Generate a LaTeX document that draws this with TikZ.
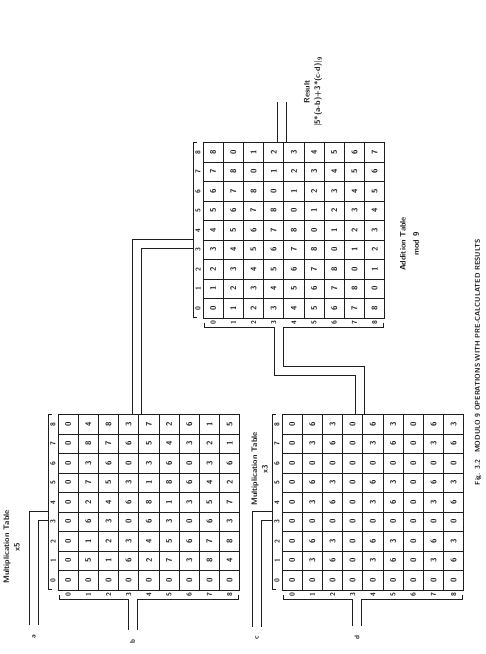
\documentclass[tikz,border=0pt]{standalone}
\usepackage{tikz}
\usetikzlibrary{positioning,calc}
\definecolor{cInk}{HTML}{1E1E1E}
\tikzset{
  cell/.style={draw=cInk, line width=0.7pt, minimum width=19.5pt, minimum height=20.2pt,
               inner sep=0pt, outer sep=0pt, font=\sffamily\bfseries\footnotesize, text=cInk},
  hdr/.style={inner sep=0pt, font=\sffamily\bfseries\scriptsize, text=cInk},
  brk/.style={draw=cInk, line width=0.7pt},
  core/.style={draw=white, line width=9pt},
  wire/.style={draw=cInk, line width=0.8pt},
  ttl/.style={font=\sffamily\bfseries\footnotesize, text=cInk, inner sep=1pt},
  lbl/.style={font=\sffamily\bfseries\scriptsize, text=cInk, inner sep=1pt},
}
\begin{document}
\begin{tikzpicture}[x=1pt, y=1pt, rotate=90, transform shape]
  \useasboundingbox (0,0) rectangle (654,-486);

  % tables: entry = (k*row*col + s*(row+col)) mod 9
  \foreach \tn/\ox/\oy/\k/\s in {m5/64/58/5/0, m3/64/282/3/0, ad/336/203/0/1}{
    \foreach \row in {0,...,8}{
      \foreach \col in {0,...,8}{
        \pgfmathtruncatemacro\val{mod(\k*\row*\col+\s*(\row+\col),9)}
        \node[cell] (\tn-\row-\col) at ({\ox+(\col+0.5)*19.5},{-\oy-(\row+0.5)*20.2}) {\val};
      }
      \node[hdr] (\tn-r\row) at ({\ox-4.5},{-\oy-(\row+0.5)*20.2}) {\row};
      \node[hdr] (\tn-c\row) at ({\ox+(\row+0.5)*19.5},{-\oy+5}) {\row};
    }
    \draw[brk] ({\ox+1},{-\oy+6}) -- ({\ox+1},{-\oy+10}) -- ({\ox+175.5},{-\oy+10}) -- ({\ox+175.5},{-\oy+6});
    \draw[brk] ({\ox-5},{-\oy-1}) -- ({\ox-9},{-\oy-1}) -- ({\ox-9},{-\oy-180.8}) -- ({\ox-5},{-\oy-180.8});
  }

  \node[ttl] (m5t) at (107,-7) {Multiplication Table};
  \node[ttl, below=1pt of m5t] (m5k) {x5};
  \node[ttl] (m3t) at (185,-255) {Multiplication Table};
  \node[ttl, below=1pt of m3t] (m3k) {x3};
  \node[ttl] (adt) at (410,-403) {Addition Table};
  \node[ttl, below=5pt of adt] (adk) {mod 9};
  \node[ttl] (rest) at (562,-307) {Result};
  \node[ttl, below=2pt of rest] (resf) {\textbar 5*(a-b)+3*(c-d)\textbar\textsubscript{9}};
  \node[lbl] (cap) at (292,-478) {Fig. 3.2\quad MODULO 9 OPERATIONS WITH PRE-CALCULATED RESULTS};

  % inputs
  \node[lbl] (a) at (17,-34) {a};
  \node[lbl] (b) at (12,-132.5) {b};
  \node[lbl] (c) at (16,-257) {c};
  \node[lbl] (d) at (16,-357) {d};

  % attach points on the brackets and table edges
  \coordinate (m5a) at (138,-48.4);
  \coordinate (m5b) at (55.4,-132.5);
  \coordinate (m3c) at (138,-272.4);
  \coordinate (m3d) at (55.4,-357);
  \coordinate (m5out) at (239.9,-137);
  \coordinate (adtop) at (410,-193.4);
  \coordinate (m3out) at (239.9,-360);
  \coordinate (adleft) at (327.4,-279);
  \coordinate (adout) at (511.9,-281.5);
  \coordinate (res) at (552,-281.5);

  % two-wire buses: white core opens the bracket, then both wires
  \draw[core, shorten <=9pt] (a) -- (138,-34) -- (m5a);
  \draw[core, shorten <=9pt] (b) -- (m5b);
  \draw[core, shorten <=9pt] (c) -- (138,-257) -- (m3c);
  \draw[core, shorten <=9pt] (d) -- (m3d);
  \draw[core] (m5out) -- (410,-137) -- (adtop);
  \draw[core] (m3out) -- (283.5,-360) -- (283.5,-279) -- (adleft);

  \draw[wire] ($(a.east)+(8.5,4.5)$) -- (142.5,-29.5) -- ($(m5a)+(4.5,0.4)$);
  \draw[wire] ($(a.east)+(8.5,-4.5)$) -- (133.5,-38.5) -- ($(m5a)+(-4.5,0.4)$);
  \draw[wire] ($(b.east)+(9,4.5)$) -- ($(m5b)+(-0.4,4.5)$);
  \draw[wire] ($(b.east)+(9,-4.5)$) -- ($(m5b)+(-0.4,-4.5)$);
  \draw[wire] ($(c.east)+(8.5,4.5)$) -- (142.5,-252.5) -- ($(m3c)+(4.5,0.4)$);
  \draw[wire] ($(c.east)+(8.5,-4.5)$) -- (133.5,-261.5) -- ($(m3c)+(-4.5,0.4)$);
  \draw[wire] ($(d.east)+(9,4.5)$) -- ($(m3d)+(-0.4,4.5)$);
  \draw[wire] ($(d.east)+(9,-4.5)$) -- ($(m3d)+(-0.4,-4.5)$);
  \draw[wire] ($(m5out)+(0,4.5)$) -- (414.5,-132.5) -- ($(adtop)+(4.5,0.4)$);
  \draw[wire] ($(m5out)+(0,-4.5)$) -- (405.5,-141.5) -- ($(adtop)+(-4.5,0.4)$);
  \draw[wire] ($(m3out)+(0,4.5)$) -- (279,-355.5) -- (279,-274.5) -- ($(adleft)+(-0.4,4.5)$);
  \draw[wire] ($(m3out)+(0,-4.5)$) -- (288,-364.5) -- (288,-283.5) -- ($(adleft)+(-0.4,-4.5)$);
  \draw[wire] ($(adout)+(0,4.5)$) -- ($(res)+(0,4.5)$);
  \draw[wire] ($(adout)+(0,-4.5)$) -- ($(res)+(0,-4.5)$);
\end{tikzpicture}
\end{document}
